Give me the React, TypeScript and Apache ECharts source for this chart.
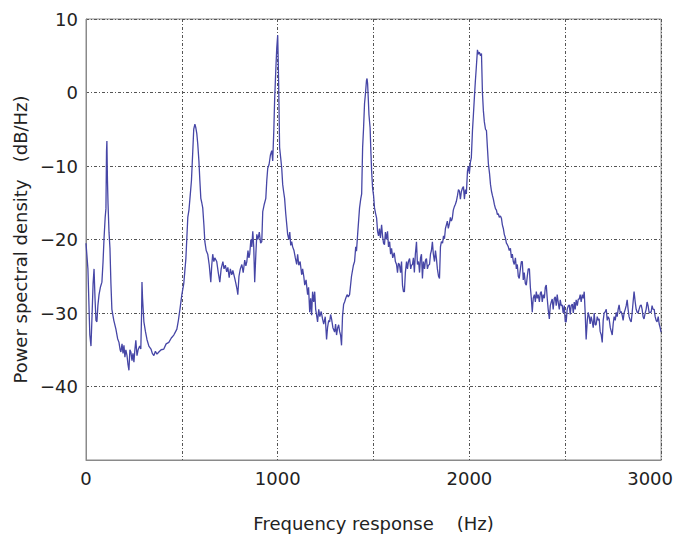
import React, { useEffect, useRef } from "react";
import * as echarts from "echarts";

const xTicks = [0, 500, 1000, 1500, 2000, 2500, 3000];
const yTicks = [-50, -40, -30, -20, -10, 0, 10];
const xTitle = "Frequency response    (Hz)";
const yTitle = "Power spectral density   (dB/Hz)";

// [frequency Hz, PSD dB/Hz]
const psd: [number, number][] = [
  [0, -20.5], [10, -24], [20, -33], [26, -34.5], [32, -30], [37, -26], [42, -24], [47, -28], [52, -31], [57, -31.2],
  [62, -29], [68, -27.5], [75, -26.5], [83, -25.8], [89, -23], [94, -19.9], [100, -17], [104, -15.8], [107, -8], [109, -6.6],
  [112, -12], [115, -15.2], [120, -19], [125, -21.2], [130, -26], [135, -29.5], [145, -31], [156, -32.2], [165, -33.5], [172, -34],
  [178, -35], [182, -35.3], [188, -34.2], [193, -35.5], [198, -34.4], [203, -36], [208, -35], [214, -35.8], [219, -37], [224, -37.8],
  [229, -35], [234, -35.3], [240, -36.5], [245, -35.5], [250, -36.7], [255, -35], [260, -33.7], [266, -35.8], [272, -35], [280, -34.5],
  [286, -34.9], [290, -30], [292, -25.8], [295, -28], [302, -31.2], [310, -32.5], [318, -33.6], [328, -34.5], [339, -34.9], [346, -35.5],
  [354, -35.8], [362, -35.2], [370, -35.6], [380, -35.3], [392, -35], [406, -34.9], [418, -34.2], [432, -34], [445, -33.4], [458, -33],
  [466, -32.6], [474, -32.2], [482, -31], [490, -29.5], [500, -27.5], [510, -26], [521, -22.6], [531, -17], [537, -16], [542, -14.5],
  [550, -12], [557, -8], [562, -5], [568, -4.3], [573, -4.8], [578, -5.6], [583, -7], [589, -9.3], [594, -12], [599, -14.4],
  [604, -15], [609, -15.7], [615, -18], [620, -20.3], [627, -21.5], [635, -22], [643, -23.5], [651, -25.8], [656, -23.5], [661, -22],
  [667, -23], [672, -22.5], [682, -23], [690, -24.5], [698, -25.8], [705, -24], [714, -23], [720, -24], [727, -23.5], [734, -24.4],
  [740, -23.8], [747, -25.2], [753, -24], [760, -24.8], [766, -24.2], [776, -25.3], [782, -26], [788, -26.8], [792, -27.5], [798, -25],
  [805, -24], [813, -23.4], [820, -24.5], [828, -22.8], [834, -23.6], [839, -23], [845, -21.5], [850, -22.5], [854, -22], [860, -20],
  [865, -21], [870, -18.9], [875, -21], [880, -25.8], [886, -22], [891, -19.3], [897, -20], [904, -19], [911, -20.5], [917, -20.3],
  [922, -16.2], [930, -15.2], [938, -14.4], [943, -12], [948, -10.3], [955, -9.8], [962, -8.5], [969, -7.9], [974, -9.3], [980, -5],
  [984, -1], [990, 3], [995, 6], [1000, 7.8], [1003, 4], [1005, 1.2], [1008, -4], [1010, -7.5], [1016, -9], [1021, -10.3],
  [1026, -12.5], [1031, -13.5], [1036, -14.4], [1042, -16.5], [1052, -19.3], [1058, -20], [1063, -19], [1068, -20.8], [1073, -20.3], [1078, -21],
  [1085, -21.5], [1092, -22.5], [1099, -23.4], [1104, -22], [1110, -23.5], [1117, -23], [1125, -24.8], [1130, -24], [1136, -25], [1141, -26.2],
  [1148, -25.5], [1156, -27.5], [1161, -26.5], [1167, -29.9], [1172, -28], [1177, -30.3], [1182, -27.1], [1188, -28.5], [1193, -27.1], [1198, -29.5],
  [1203, -30.3], [1208, -31.2], [1214, -29.5], [1220, -30.5], [1227, -29.8], [1234, -30.8], [1240, -31.5], [1248, -30.5], [1255, -33.6], [1260, -32],
  [1266, -31], [1271, -31.2], [1276, -30.2], [1281, -30.8], [1288, -32], [1297, -32.6], [1302, -31.5], [1307, -33], [1313, -32], [1318, -31.6],
  [1323, -32.5], [1328, -33], [1333, -34.4], [1338, -30.5], [1344, -28.8], [1349, -28.5], [1355, -28], [1362, -27.5], [1368, -27.8], [1375, -27.5],
  [1385, -25], [1395, -23.5], [1401, -23], [1407, -21], [1411, -21.6], [1417, -19.3], [1422, -17.5], [1427, -15.7], [1433, -14.5], [1438, -13.8],
  [1443, -7.5], [1448, -4.8], [1453, -1.5], [1458, -0.1], [1463, 1.6], [1466, 1.9], [1469, 1.2], [1472, -0.5], [1476, -3], [1482, -4.8],
  [1486, -8], [1490, -10.7], [1495, -13], [1500, -14], [1505, -15.7], [1511, -16.5], [1516, -17.1], [1521, -18.9], [1526, -19.5], [1531, -18.5],
  [1536, -19.8], [1542, -18], [1547, -19.5], [1552, -20.5], [1557, -20.7], [1562, -19], [1567, -20], [1573, -18.9], [1578, -21], [1584, -20.3],
  [1589, -22], [1594, -21.2], [1600, -22.5], [1608, -21.8], [1614, -23], [1620, -23.4], [1625, -24.5], [1630, -23.2], [1635, -23.4], [1641, -24.5],
  [1646, -23], [1651, -26.2], [1656, -27.1], [1661, -27.1], [1666, -24.5], [1672, -23], [1677, -24], [1682, -23], [1688, -22.6], [1694, -24],
  [1698, -23.5], [1703, -23.4], [1708, -22.5], [1713, -24.5], [1718, -22], [1724, -20.3], [1729, -23.4], [1735, -23], [1740, -24.5], [1745, -22.5],
  [1750, -22], [1755, -25.3], [1760, -23], [1766, -24], [1771, -22.8], [1776, -22.6], [1781, -24], [1786, -23.5], [1792, -23.4], [1797, -22],
  [1802, -21.5], [1807, -20.3], [1812, -22], [1818, -23], [1823, -21.5], [1828, -22.6], [1833, -24], [1839, -25], [1844, -25.3], [1849, -21],
  [1854, -20.3], [1860, -20.5], [1865, -19.5], [1870, -19.9], [1875, -18.5], [1880, -18], [1885, -17.5], [1890, -18.5], [1896, -17.8], [1901, -17],
  [1906, -17.5], [1911, -17.1], [1916, -16], [1922, -15.5], [1927, -15.2], [1932, -14.8], [1938, -14], [1943, -13.2], [1948, -13.4], [1953, -14.5],
  [1958, -13.5], [1964, -13], [1969, -12.8], [1974, -14.5], [1979, -13.2], [1984, -13.8], [1990, -10.7], [1995, -10], [2000, -11], [2005, -9.5],
  [2010, -8.9], [2016, -5.2], [2021, -3], [2026, -0.7], [2031, 1.5], [2036, 3.4], [2042, 5.8], [2047, 5.2], [2052, 5.5], [2058, 5.0],
  [2063, 5.3], [2068, 0], [2073, -2.5], [2078, -4], [2084, -5], [2089, -5.2], [2094, -7.5], [2099, -9.7], [2105, -11], [2110, -12.5],
  [2115, -13.4], [2120, -14], [2125, -14.5], [2130, -15.2], [2136, -15.8], [2141, -16], [2146, -16.6], [2151, -16.5], [2156, -17], [2162, -16.8],
  [2167, -17.1], [2172, -18], [2177, -18.5], [2182, -19.3], [2188, -19.8], [2193, -20.5], [2198, -20.7], [2203, -21], [2208, -21.5], [2214, -21.2],
  [2219, -22.5], [2224, -22], [2229, -23], [2234, -23.4], [2240, -22.5], [2245, -24], [2250, -23.4], [2255, -25], [2260, -25.3], [2266, -24],
  [2271, -23], [2276, -23], [2281, -25.5], [2286, -24.5], [2292, -26], [2297, -26.2], [2302, -25], [2307, -24], [2313, -24], [2318, -26.5],
  [2323, -28], [2328, -29.9], [2333, -28], [2339, -27.5], [2344, -28.5], [2349, -27.1], [2354, -28], [2359, -27.5], [2365, -28.5], [2370, -27.3],
  [2375, -27.1], [2380, -28.5], [2385, -27.5], [2391, -28], [2396, -26.5], [2401, -26.2], [2406, -28], [2411, -29.5], [2417, -30.8], [2422, -29],
  [2427, -28.5], [2432, -28.1], [2437, -29.5], [2443, -28], [2448, -27.8], [2453, -29], [2458, -27.5], [2463, -28.5], [2469, -29.5], [2474, -28.2],
  [2479, -29], [2484, -28.9], [2489, -30], [2495, -29], [2500, -31.2], [2505, -31.2], [2510, -29.5], [2516, -29], [2521, -28.9], [2526, -30.2],
  [2531, -29], [2537, -28.8], [2542, -30], [2547, -28.5], [2552, -29.5], [2557, -28.2], [2563, -29], [2568, -28.1], [2573, -28.1], [2578, -27.5],
  [2583, -28.5], [2589, -27.5], [2594, -28], [2599, -27.1], [2604, -30], [2609, -33.6], [2615, -31], [2620, -29.9], [2625, -30.5], [2630, -31.5],
  [2635, -30.5], [2641, -31.2], [2646, -32], [2651, -30], [2656, -31.6], [2661, -31.6], [2667, -30.5], [2672, -31], [2677, -30.8], [2682, -32.5],
  [2688, -33], [2693, -34], [2698, -31], [2703, -30], [2709, -29.8], [2714, -29.5], [2719, -31], [2724, -30.5], [2729, -30.8], [2735, -32],
  [2740, -32.5], [2745, -33], [2750, -31.5], [2755, -30.5], [2761, -31], [2766, -29.9], [2771, -30.5], [2776, -29.5], [2781, -28.9], [2787, -30],
  [2792, -29.8], [2797, -30.3], [2802, -31], [2807, -30], [2813, -29.5], [2818, -29], [2823, -28.2], [2828, -29.5], [2833, -30.5], [2839, -31],
  [2844, -31.2], [2849, -30], [2854, -28.5], [2859, -27.1], [2865, -28.5], [2870, -29.5], [2875, -29.9], [2880, -30], [2885, -29.5], [2891, -29],
  [2896, -28.9], [2901, -29.5], [2906, -30.5], [2911, -30.8], [2917, -30], [2922, -29.5], [2927, -28.5], [2932, -29], [2938, -30], [2943, -29.9],
  [2948, -29.9], [2953, -29], [2958, -29.5], [2964, -29.5], [2969, -30.5], [2974, -31], [2979, -31.2], [2985, -30.5], [2990, -31.5], [2995, -32],
  [3000, -32.6],
];

const FONT = "DejaVu Sans";

export default function App() {
  const ref = useRef<HTMLDivElement>(null);
  useEffect(() => {
    if (!ref.current) return;
    const chart = echarts.init(ref.current, undefined, { renderer: "svg" });
    const gridLine = { show: true, lineStyle: { color: "#555", width: 1, type: [3, 2, 1, 2] as any } };
    chart.setOption({
      animation: false,
      backgroundColor: "#fff",
      grid: { left: 86, right: 14, top: 19, bottom: 77, show: true, borderColor: "#8a8a8a", borderWidth: 1 },
      xAxis: {
        type: "value",
        min: xTicks[0],
        max: xTicks[xTicks.length - 1],
        interval: xTicks[1] - xTicks[0],
        name: xTitle,
        nameLocation: "middle",
        nameGap: 54,
        nameTextStyle: { fontFamily: FONT, fontSize: 18, color: "#222" },
        axisLine: { show: true, onZero: false, lineStyle: { color: "#8a8a8a" } },
        axisTick: { show: false },
        splitLine: gridLine,
        axisLabel: {
          fontFamily: FONT,
          fontSize: 18,
          color: "#222",
          margin: 9,
          formatter: (v: number) => (v % 1000 === 0 ? (v === 3000 ? "{last|3000}" : String(v)) : ""),
          rich: { last: { fontFamily: FONT, fontSize: 18, color: "#222", padding: [0, 22, 0, 0] } },
        },
      },
      yAxis: {
        type: "value",
        min: yTicks[0],
        max: yTicks[yTicks.length - 1],
        interval: yTicks[1] - yTicks[0],
        name: yTitle,
        nameLocation: "middle",
        nameGap: 55,
        nameTextStyle: { fontFamily: FONT, fontSize: 18, color: "#222" },
        axisLine: { show: true, onZero: false, lineStyle: { color: "#8a8a8a" } },
        axisTick: { show: false },
        splitLine: gridLine,
        axisLabel: {
          fontFamily: FONT,
          fontSize: 18,
          color: "#222",
          margin: 8,
          formatter: (v: number) => (v === -50 ? "" : String(v).replace("-", "\u2212")),
        },
      },
      series: [
        {
          type: "line",
          data: psd,
          showSymbol: false,
          symbol: "none",
          lineStyle: { color: "#4646a6", width: 1.3 },
          z: 3,
        },
      ],
    });
    return () => chart.dispose();
  }, []);
  return <div ref={ref} style={{ position: "fixed", left: 0, top: 0, width: 676, height: 537 }} />;
}
